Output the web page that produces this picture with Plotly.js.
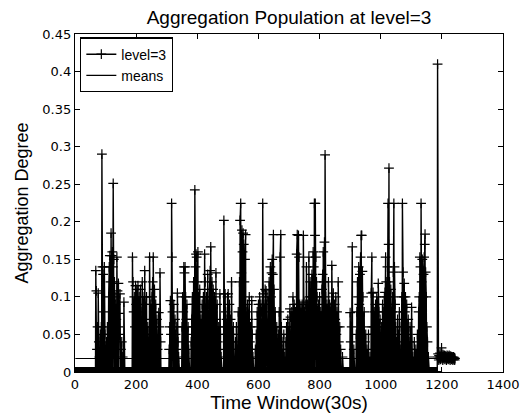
<!DOCTYPE html>
<html>
<head>
<meta charset="utf-8">
<script src="https://cdn.plot.ly/plotly-3.0.1.min.js"></script>
<style>html,body{margin:0;padding:0;background:#fff;}#chart{width:520px;height:417px;}</style>
</head>
<body>
<div id="chart"></div>
<script>
// ---- data ----
var seriesName = 'level=3';
var meanName = 'means';
var lastWindow = 1243;          // last time window index
var meanValue = 0.018;          // level of the "means" line
// non-zero aggregation degrees [time window, value]; all other windows up to 1186 are 0
var spikes = [
 [68,.135],[70,.108],[72,.03],[74,.06],[76,.105],[78,.04],[80,.02],[83,.05],[86,.06],[88,.29],[90,.14],[92,.13],[94,.08],[96,.14],[98,.05],[100,.02],[103,.04],[106,.06],[108,.05],[110,.1],[112,.14],[114,.155],[116,.12],[118,.185],[120,.155],[122,.16],[124,.14],[125,.251],[127,.15],[129,.12],[131,.1],[133,.09],[135,.07],[137,.153],[139,.108],[141,.06],[142,.118],[144,.078],[146,.05],[147,.104],[150,.03],[153,.04],[156,.02],[160,.093],
 [188,.153],[190,.12],[192,.08],[194,.1],[196,.06],[198,.115],[200,.09],[202,.11],[204,.05],[206,.115],[208,.07],[210,.1],[212,.04],[214,.11],[216,.08],[218,.03],[220,.12],[222,.06],[224,.09],[226,.1],[228,.135],[230,.05],[232,.07],[234,.1],[236,.04],[238,.06],
 [244,.153],[246,.06],[248,.09],[250,.05],[252,.1],[254,.12],[256,.153],[258,.08],[260,.11],[262,.06],[264,.09],[266,.04],[268,.07],[270,.03],[272,.05],[274,.079],[276,.06],[278,.132],[280,.04],
 [308,.03],[310,.06],[312,.095],[314,.05],[316,.2245],[317,.153],[319,.08],[321,.06],[323,.09],[325,.04],[327,.07],[329,.05],[331,.03],[333,.06],[335,.105],[337,.04],[339,.02],
 [350,.06],[352,.1],[354,.08],[356,.14],[358,.132],[360,.14],[362,.1],[364,.07],[366,.09],[368,.05],[370,.06],[372,.03],
 [380,.04],[382,.07],[384,.1],[386,.06],[388,.12],[390,.09],[392,.2425],[394,.14],[396,.157],[398,.153],[400,.12],[402,.16],[404,.1],[406,.08],[408,.11],[410,.05],[412,.07],[414,.04],[416,.09],[418,.06],[420,.1],[422,.08],[424,.157],[426,.12],[428,.06],[430,.1],[432,.07],[434,.13],[436,.09],[438,.05],[440,.11],[442,.135],[444,.1665],[446,.1],[448,.12],[450,.08],[452,.11],[454,.06],[456,.1],[458,.05],[461,.132],[463,.07],[465,.09],[467,.04],[470,.06],[472,.03],[474,.104],[476,.05],[478,.02],
 [487,.202],[489,.06],[491,.104],[493,.08],[495,.05],[497,.07],[499,.1],[501,.104],[503,.06],[505,.09],[507,.04],[509,.07],[512,.12],[514,.05],[516,.03],[518,.06],
 [525,.04],[528,.06],[531,.03],[534,.08],[536,.05],[538,.12],[540,.202],[542,.2245],[544,.132],[546,.189],[548,.16],[550,.185],[552,.17],[554,.12],[556,.15],[558,.183],[560,.08],[562,.06],[564,.09],[566,.05],[568,.07],[570,.1],[572,.04],[574,.06],[576,.03],[578,.095],[580,.05],[582,.02],
 [590,.03],[593,.05],[596,.08],[598,.06],[600,.09],[602,.07],[604,.1],[606,.05],[608,.09],[610,.08],[612,.06],[614,.2245],[616,.104],[618,.09],[620,.07],[622,.11],[624,.06],[625,.108],[627,.09],[629,.05],[631,.1],[633,.07],[635,.12],[637,.08],[639,.14],[641,.1],[643,.132],[645,.15],[647,.13],[649,.183],[651,.11],[653,.06],[655,.08],[657,.04],[660,.06],[662,.03],[665,.05],[668,.08],[671,.153],[673,.183],[675,.06],[677,.04],[680,.03],[683,.05],[686,.02],
 [690,.04],[692,.06],[694,.03],[696,.07],[698,.05],[700,.06],[703,.084],[705,.073],[707,.05],[709,.08],[711,.06],[713,.1],[715,.07],[717,.09],[719,.05],[721,.08],[723,.06],[725,.157],[727,.183],[729,.09],[731,.182],[733,.153],[735,.09],[737,.07],[739,.085],[741,.06],[743,.09],[745,.08],[747,.182],[749,.093],[751,.08],[753,.06],[755,.09],[757,.14],[759,.07],[761,.09],[763,.06],[765,.153],[767,.1],[769,.12],[771,.08],[773,.1],[775,.13],[777,.09],[779,.16],[781,.14],[783,.2245],[785,.182],[786,.2245],[788,.153],[790,.12],[792,.1],[794,.08],[796,.09],[798,.07],[800,.1],[802,.06],[804,.08],[806,.05],[808,.11],[810,.13],[812,.16],[814,.12],[816,.173],[818,.289],[820,.1],
 [822,.06],[824,.09],[826,.05],[829,.12],[831,.07],[833,.09],[835,.06],[837,.086],[840,.142],[842,.08],[845,.105],[847,.06],[849,.09],[851,.07],[853,.1],[855,.05],[857,.08],[859,.06],[861,.12],[863,.04],[866,.06],[869,.03],[875,.02],
 [900,.079],[902,.04],[905,.06],[907,.1665],[912,.03],[920,.05],[922,.08],[924,.12],[926,.1],[928,.14],[930,.09],[932,.13],[934,.153],[936,.182],[938,.182],[940,.134],[942,.1],[944,.06],[946,.08],[948,.04],[951,.05],[955,.03],[960,.05],[965,.02],[969,.105],[971,.153],[973,.06],
 [975,.106],[977,.06],[979,.08],[981,.05],[983,.09],[985,.07],[987,.1],[989,.06],[992,.118],[994,.08],[996,.05],[998,.07],[1000,.04],[1003,.06],[1006,.09],[1008,.05],[1010,.08],[1012,.1],[1014,.106],[1016,.153],[1018,.12],[1020,.1],[1022,.14],[1024,.2245],[1026,.17],[1027,.2714],[1029,.12],[1031,.09],[1033,.11],[1035,.06],[1037,.08],[1039,.1],[1041,.133],[1043,.2245],[1045,.14],[1047,.09],[1049,.06],[1052,.04],[1055,.07],[1058,.05],[1061,.08],[1064,.03],[1067,.06],[1069,.1],[1071,.2245],[1073,.133],[1075,.1],[1077,.118],[1079,.08],[1081,.1],[1083,.06],[1085,.09],[1087,.05],[1090,.07],[1093,.04],[1096,.06],[1098,.03],[1101,.086],[1105,.02],[1110,.04],[1115,.03],[1120,.05],[1124,.08],[1126,.1],[1128,.153],[1130,.14],[1132,.2245],[1134,.12],[1136,.15],[1138,.1],[1140,.13],[1142,.153],[1144,.17],[1145,.1835],[1147,.133],[1149,.1],[1151,.06],[1153,.04],[1156,.02],
 [1186,.41]
];
// final windows (1187 .. 1243), all close to the mean
var tailStart = 1187;
var tailValues = [0.02,0.024,0.018,0.016,0.022,0.02,0.018,0.025,0.02,0.017,0.021,0.019,0.032,0.022,0.018,0.02,0.016,0.023,0.019,0.021,0.018,0.02,0.022,0.017,0.019,0.021,0.02,0.018,0.016,0.02,0.022,0.019,0.018,0.021,0.017,0.02,0.019,0.022,0.018,0.02,0.016,0.019,0.021,0.018,0.02,0.017,0.019,0.02,0.018,0.016,0.019,0.02,0.018,0.017,0.019,0.016,0.018];
var xTicks = [0,200,400,600,800,1000,1200,1400];
var xTickText = ['0','200','400','600','800','1000','1200','1400'];
var yTicks = [0,0.05,0.1,0.15,0.2,0.25,0.3,0.35,0.4,0.45];
var yTickText = ['0','0.05','0.1','0.15','0.2','0.25','0.3','0.35','0.4','0.45'];

// ---- build series ----
var xs = [], ys = [];
var lookup = {};
spikes.forEach(function(p){ lookup[p[0]] = p[1]; });
tailValues.forEach(function(v,i){ lookup[tailStart+i] = v; });
for (var t = 1; t <= lastWindow; t++) { xs.push(t); ys.push(lookup[t] !== undefined ? lookup[t] : 0); }

var TICKFONT = 'DejaVu Sans, Arial, sans-serif';
var FONT = 'Liberation Sans, Arial, sans-serif';
var traces = [
 {x: xs, y: ys, type: 'scatter', mode: 'lines+markers', name: seriesName,
  line: {color: '#000', width: 1.4},
  marker: {symbol: 'cross-thin', size: 7, color: '#000', line: {color: '#000', width: 1.2}}},
 {x: [xs[0], xs[xs.length-1]], y: [meanValue, meanValue], type: 'scatter', mode: 'lines', name: meanName,
  line: {color: '#000', width: 1.2}}
];
var axisCommon = {showline: true, linecolor: '#000', linewidth: 1.2, mirror: 'ticks', ticks: 'inside', ticklen: 5,
  tickcolor: '#000', showgrid: false, zeroline: false, tickfont: {family: TICKFONT, size: 13, color: '#000'}};
var layout = {
  width: 520, height: 417,
  margin: {l: 75, r: 17, t: 34, b: 45},
  paper_bgcolor: '#fff', plot_bgcolor: '#fff',
  font: {family: FONT, color: '#000'},
  title: {text: 'Aggregation Population at level=3', font: {family: FONT, size: 19, color: '#000'},
          x: 0.5, xref: 'paper', xanchor: 'center', y: 0.958, yref: 'container', yanchor: 'middle'},
  xaxis: Object.assign({}, axisCommon, {range: [0, 1400], tickmode: 'array', tickvals: xTicks, ticktext: xTickText,
          title: {text: 'Time Window(30s)', font: {family: FONT, size: 19, color: '#000'}, standoff: 5}}),
  yaxis: Object.assign({}, axisCommon, {range: [0, 0.45], tickmode: 'array', tickvals: yTicks, ticktext: yTickText,
          title: {text: 'Aggregation Degree', font: {family: FONT, size: 18, color: '#000'}, standoff: 9}}),
  showlegend: true,
  legend: {x: 0.012, y: 0.99, xanchor: 'left', yanchor: 'top', bgcolor: '#fff', bordercolor: '#000', borderwidth: 1.2,
           font: {family: FONT, size: 14, color: '#000'}, tracegroupgap: 0}
};
Plotly.newPlot('chart', traces, layout, {displayModeBar: false, staticPlot: true});
</script>
</body>
</html>
